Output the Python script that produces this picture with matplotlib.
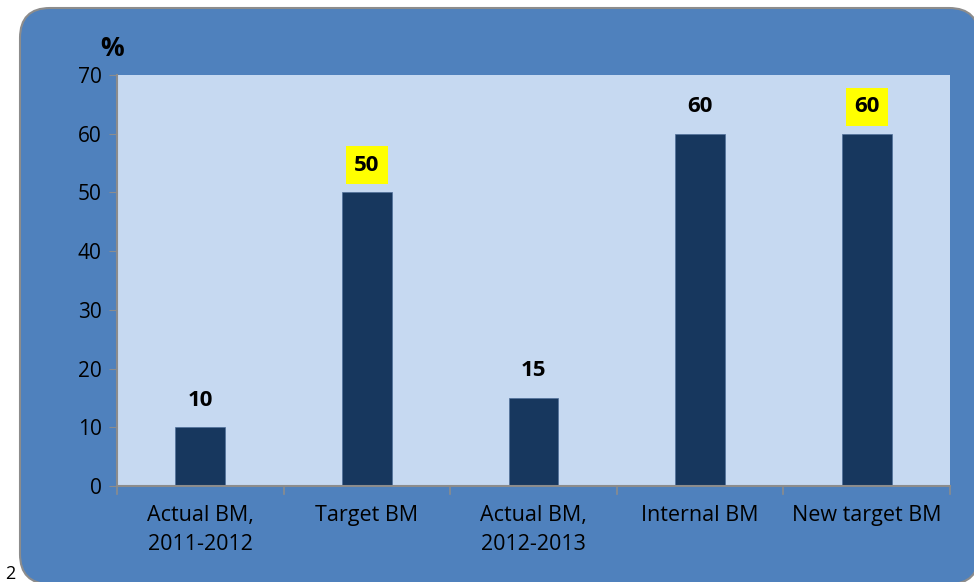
import matplotlib.pyplot as plt
from matplotlib.patches import FancyBboxPatch

categories = ["Actual BM,\n2011-2012", "Target BM", "Actual BM,\n2012-2013", "Internal BM", "New target BM"]
values = [10, 50, 15, 60, 60]
highlight = [False, True, False, False, True]
yticks = [0, 10, 20, 30, 40, 50, 60, 70]

plt.rcParams["font.family"] = ["Open Sans", "DejaVu Sans"]

W, H = 974, 582
fig = plt.figure(figsize=(W / 100, H / 100), dpi=100)
fig.patch.set_facecolor("white")

# rounded blue panel behind the chart (in pixel units via a background axes)
bg = fig.add_axes([0, 0, 1, 1], zorder=-1)
bg.set_xlim(0, W)
bg.set_ylim(H, 0)
bg.axis("off")
panel = FancyBboxPatch((20, 8), 959, 576,
                       boxstyle="round,pad=0,rounding_size=30",
                       facecolor="#4F81BD", edgecolor="#8C8C8C", linewidth=1.5)
bg.add_patch(panel)

ax = fig.add_axes([117 / W, 1 - 486 / H, 833 / W, 411 / H])
ax.set_facecolor("#C6D9F1")

x = range(len(categories))
ax.bar(x, values, width=0.3, color="#17375E", edgecolor="#4F6F9A", linewidth=0.5, zorder=2)

for i, v in enumerate(values):
    bbox = dict(boxstyle="square,pad=0.38", facecolor="yellow", edgecolor="none") if highlight[i] else None
    ax.text(i, v + 4.6, str(v), ha="center", va="center", fontsize=16,
            fontweight="bold", color="black", bbox=bbox)

ax.set_xlim(-0.5, len(categories) - 0.5)
ax.set_ylim(0, 70)
ax.set_yticks(yticks)
ax.set_yticklabels([str(t) for t in yticks], fontsize=15)
ax.set_xticks(x)
ax.set_xticklabels(categories, fontsize=15.5, linespacing=1.45)
ax.tick_params(axis="x", length=0, pad=14)
ax.tick_params(axis="y", length=6, color="#8C8C8C", pad=5)

# boundary ticks on x axis
for b in [i - 0.5 for i in range(len(categories) + 1)]:
    ax.plot([b, b], [0, -1.3], color="#8C8C8C", lw=1.2, clip_on=False)

for s in ["top", "right"]:
    ax.spines[s].set_visible(False)
for s in ["left", "bottom"]:
    ax.spines[s].set_color("#8C8C8C")
    ax.spines[s].set_linewidth(1.5)

fig.text(112 / W, 1 - 48 / H, "%", fontsize=19, fontweight="bold", ha="center", va="center")
fig.text(10 / W, 1 - 574 / H, "2", fontsize=13, ha="center", va="center")

fig.savefig("out.png", dpi=100)
